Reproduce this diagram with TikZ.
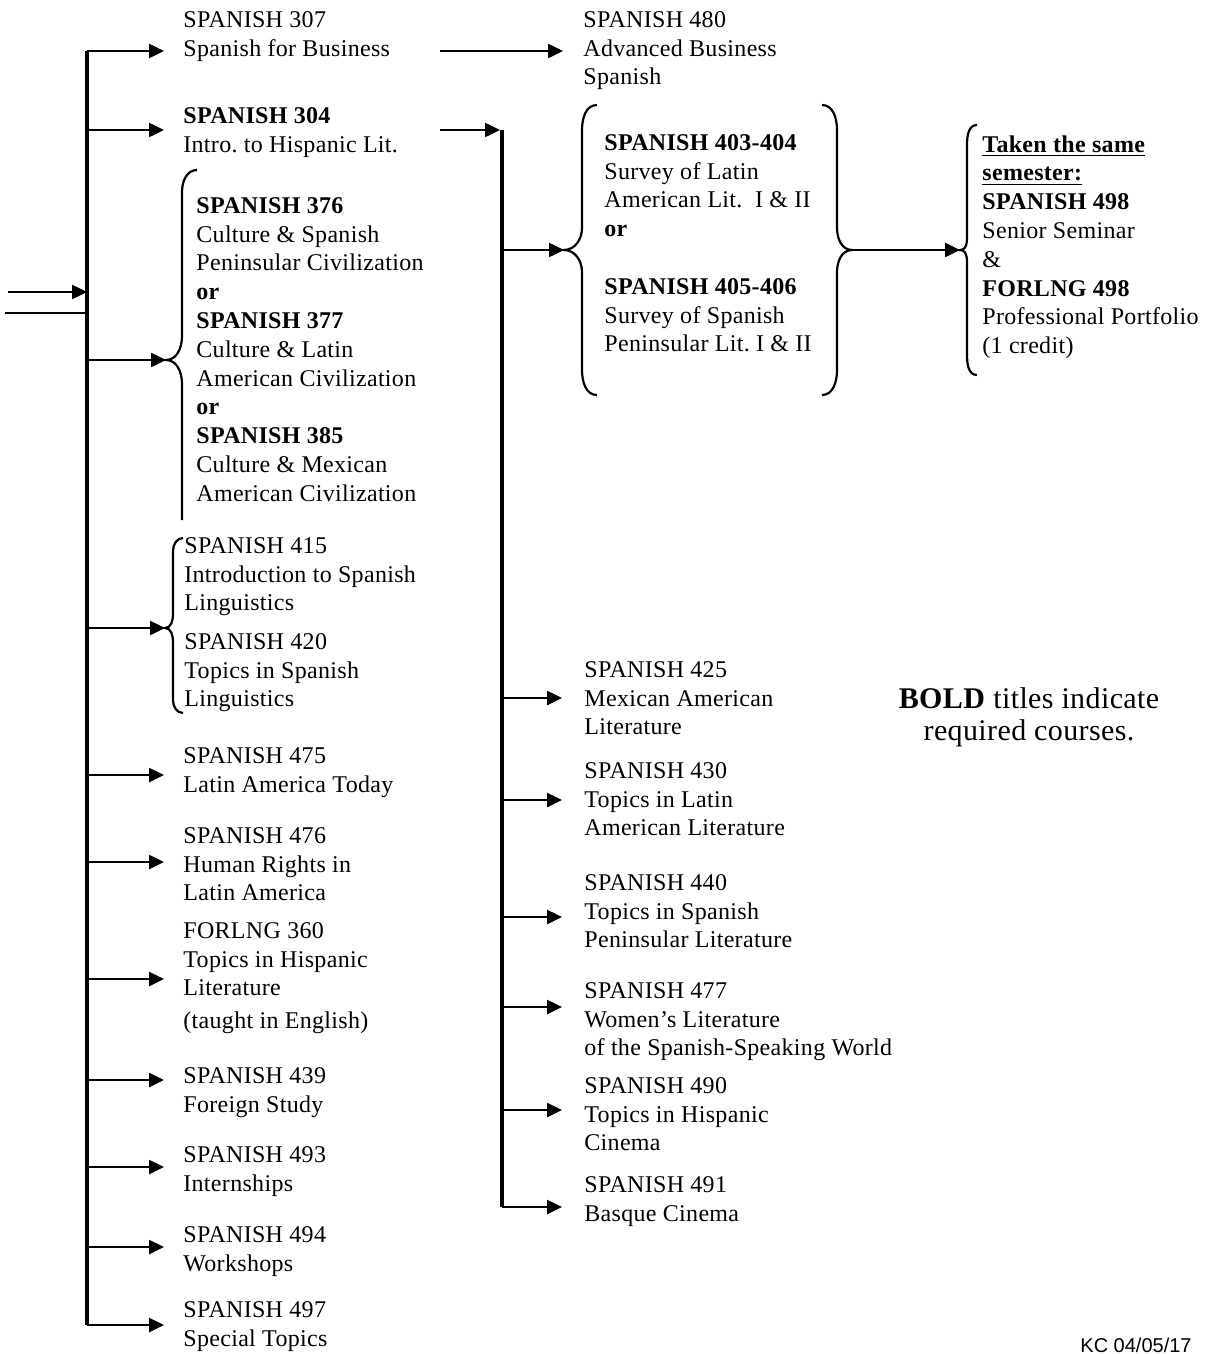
\documentclass[tikz,border=0pt]{standalone}
\usepackage{fontspec}
\setmainfont[LetterSpace=1.3]{Liberation Serif}
\newfontfamily\kcfont{Liberation Sans}
\usetikzlibrary{arrows.meta, positioning}

\tikzset{
  course/.style={anchor=north west, inner sep=0pt, align=left, yshift=-2pt,
    font=\fontsize{12}{14.4}\selectfont\frenchspacing},
  legend/.style={anchor=north, inner sep=0pt, align=center,
    font=\fontsize{15}{16.2}\selectfont},
  arr/.style={line width=1.25pt, -{Triangle[length=7.5pt,width=7pt]}},
  trunk/.style={line width=2pt},
  brace/.style={line width=1.1pt},
}

\begin{document}
\begin{tikzpicture}[x=0.5pt,y=-0.5pt]
  \useasboundingbox (0,0) rectangle (1211,1354);

  % Left column
  \node[course] (s307) at (183,7) {SPANISH 307\\Spanish for Business};
  \node[course] (s304) at (183,103) {\textbf{SPANISH 304}\\Intro. to Hispanic Lit.};
  \node[course] (s376) at (196,193) {\textbf{SPANISH 376}\\Culture \& Spanish\\Peninsular Civilization\\\textbf{or}\\\textbf{SPANISH 377}\\Culture \& Latin\\American Civilization\\\textbf{or}\\\textbf{SPANISH 385}\\Culture \& Mexican\\American Civilization};
  \node[course] (s415) at (184,533) {SPANISH 415\\Introduction to Spanish\\Linguistics};
  \node[course] (s420) at (184,629) {SPANISH 420\\Topics in Spanish\\Linguistics};
  \node[course] (s475) at (183,743) {SPANISH 475\\Latin America Today};
  \node[course] (s476) at (183,823) {SPANISH 476\\Human Rights in\\Latin America};
  \node[course] (f360) at (183,918) {FORLNG 360\\Topics in Hispanic\\Literature\\[2pt](taught in English)};
  \node[course] (s439) at (183,1063) {SPANISH 439\\Foreign Study};
  \node[course] (s493) at (183,1142) {SPANISH 493\\Internships};
  \node[course] (s494) at (183,1222) {SPANISH 494\\Workshops};
  \node[course] (s497) at (183,1297) {SPANISH 497\\Special Topics};

  % Middle column
  \node[course] (s480) at (583,7) {SPANISH 480\\Advanced Business\\Spanish};
  \node[course] (s403) at (604,130) {\textbf{SPANISH 403-404}\\Survey of Latin\\American Lit.\ \ I \& II\\\textbf{or}\\[14.4pt]\textbf{SPANISH 405-406}\\Survey of Spanish\\Peninsular Lit. I \& II};
  \node[course] (s425) at (584,657) {SPANISH 425\\Mexican American\\Literature};
  \node[course] (s430) at (584,758) {SPANISH 430\\Topics in Latin\\American Literature};
  \node[course] (s440) at (584,870) {SPANISH 440\\Topics in Spanish\\Peninsular Literature};
  \node[course] (s477) at (584,978) {SPANISH 477\\Women's Literature\\of the Spanish-Speaking World};
  \node[course] (s490) at (584,1073) {SPANISH 490\\Topics in Hispanic\\Cinema};
  \node[course] (s491) at (584,1172) {SPANISH 491\\Basque Cinema};

  % Senior year
  \node[course] (s498) at (982,131) {\textbf{\underline{Taken the same}}\\\textbf{\underline{semester:}}\\\textbf{SPANISH 498}\\Senior Seminar\\\&\\\textbf{FORLNG 498}\\Professional Portfolio\\(1 credit)};

  % Note
  \node[legend] (note) at (1029,687) {\textbf{BOLD} titles indicate\\required courses.};
  \node[anchor=base east, inner sep=0pt, font=\kcfont\fontsize{10}{12}\selectfont] (kc) at (1192,1352) {KC 04/05/17};

  % Braces
  \coordinate (b376) at (166,360);
  \coordinate (b415) at (165,628);
  \coordinate (b403) at (564,250);
  \coordinate (r403) at (852,250);
  \coordinate (b498) at (960,250);
  \draw[brace] (197,170) to[out=180,in=90] (182,192) -- (182,336) to[out=-90,in=0] (b376) to[out=0,in=90] (182,384) -- (182,520);
  \draw[brace] (183,538) to[out=180,in=90] (173,551) -- (173,614) to[out=-90,in=0] (b415) to[out=0,in=90] (173,642) -- (173,700) to[out=-90,in=180] (183,713);
  \draw[brace] (597,105) to[out=180,in=90] (582,130) -- (582,228) to[out=-90,in=0] (b403) to[out=0,in=90] (582,272) -- (582,370) to[out=-90,in=180] (597,395);
  \draw[brace] (822,105) to[out=0,in=90] (837,130) -- (837,228) to[out=-90,in=180] (r403) to[out=180,in=90] (837,272) -- (837,370) to[out=-90,in=0] (822,395);
  \draw[brace] (977,125) to[out=180,in=90] (967,145) -- (967,230) to[out=-90,in=0] (b498) to[out=0,in=90] (967,270) -- (967,355) to[out=-90,in=180] (977,375);

  % Left trunk
  \coordinate (lt) at (87,51);
  \coordinate (lb) at (87,1325);
  \draw[trunk] (lt) -- (lb);
  \coordinate (inA) at (8,292);
  \coordinate (inB) at (5,313);
  \draw[arr] (inA) -- (lt |- inA);
  \draw[line width=1.25pt] (inB) -- (lt |- inB);

  \coordinate (a307) at (164,51);
  \coordinate (a304) at (164,130);
  \coordinate (a475) at (164,775);
  \coordinate (a476) at (164,862);
  \coordinate (a360) at (164,979);
  \coordinate (a439) at (164,1080);
  \coordinate (a493) at (164,1167);
  \coordinate (a494) at (164,1247);
  \coordinate (a497) at (164,1325);
  \draw[arr] (lt) -- (a307);
  \draw[arr] (lt |- a304) -- (a304);
  \draw[arr] (lt |- b376) -- (b376);
  \draw[arr] (lt |- b415) -- (b415);
  \draw[arr] (lt |- a475) -- (a475);
  \draw[arr] (lt |- a476) -- (a476);
  \draw[arr] (lt |- a360) -- (a360);
  \draw[arr] (lt |- a439) -- (a439);
  \draw[arr] (lt |- a493) -- (a493);
  \draw[arr] (lt |- a494) -- (a494);
  \draw[arr] (lb) -- (a497);

  % Middle trunk
  \coordinate (m307) at (440,51);
  \coordinate (a480) at (563,51);
  \draw[arr] (m307) -- (a480);
  \coordinate (m304) at (440,130);
  \coordinate (mt) at (502,130);
  \coordinate (mb) at (502,1207);
  \draw[trunk] (mt) -- (mb);
  \draw[arr, shorten >=1pt] (m304) -- (mt);

  \coordinate (a425) at (562,698);
  \coordinate (a430) at (562,800);
  \coordinate (a440) at (562,917);
  \coordinate (a477) at (562,1007);
  \coordinate (a490) at (562,1110);
  \coordinate (a491) at (562,1207);
  \draw[arr] (mt |- b403) -- (b403);
  \draw[arr] (mt |- a425) -- (a425);
  \draw[arr] (mt |- a430) -- (a430);
  \draw[arr] (mt |- a440) -- (a440);
  \draw[arr] (mt |- a477) -- (a477);
  \draw[arr] (mt |- a490) -- (a490);
  \draw[arr] (mb) -- (a491);

  % To senior year
  \draw[arr] (r403) -- (b498);
\end{tikzpicture}
\end{document}
